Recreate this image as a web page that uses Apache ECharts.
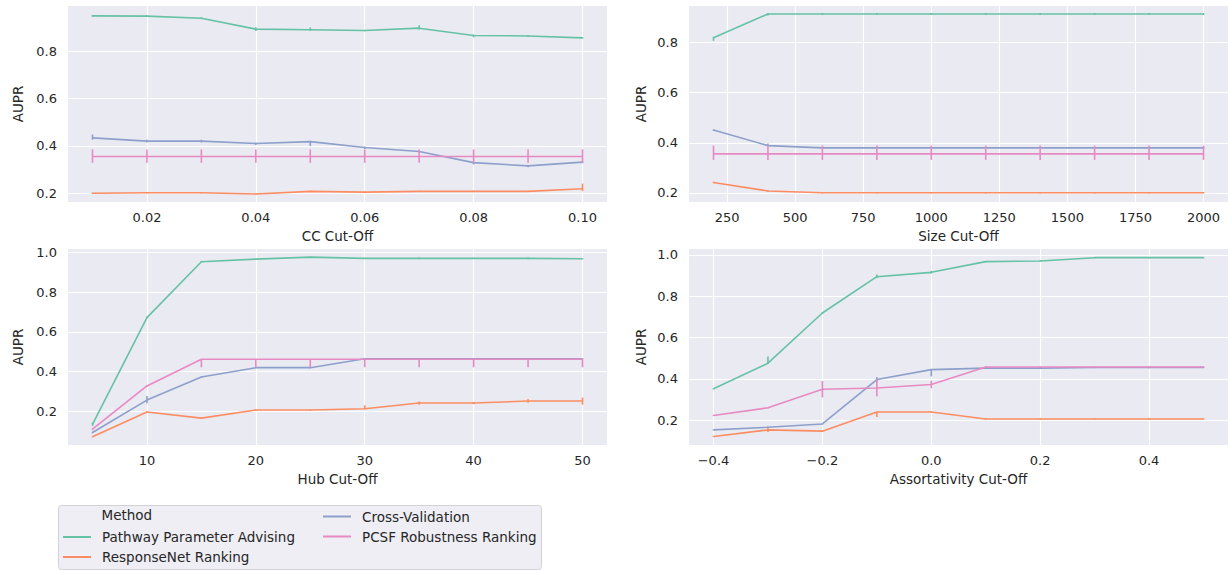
<!DOCTYPE html>
<html>
<head>
<meta charset="utf-8">
<script src="https://cdn.jsdelivr.net/npm/echarts@6/dist/echarts.min.js"></script>
<style>
html,body{margin:0;padding:0;background:#fff;}
#chart{width:1229px;height:571px;}
</style>
</head>
<body>
<div id="chart"></div>
<script>
// ---------- data ----------
const methods = ['Pathway Parameter Advising', 'ResponseNet Ranking', 'Cross-Validation', 'PCSF Robustness Ranking'];
const colors = ['#66c2a5', '#fc8d62', '#8da0cb', '#e78ac3'];

// Panel 1: CC Cut-Off
const ccX = [0.01, 0.02, 0.03, 0.04, 0.05, 0.06, 0.07, 0.08, 0.09, 0.10];
const ccPPA = [0.951, 0.950, 0.941, 0.895, 0.892, 0.889, 0.899, 0.868, 0.866, 0.858];
const ccPPADn = [0.004, 0.004, 0.004, 0.008, 0.004, 0.003, 0.006, 0.008, 0.003, 0.003];
const ccPPAUp = [0.004, 0.004, 0.004, 0.008, 0.010, 0.003, 0.012, 0.004, 0.003, 0.003];
const ccRN = [0.199, 0.201, 0.201, 0.196, 0.207, 0.204, 0.207, 0.207, 0.207, 0.218];
const ccRNDn = [0.003, 0.003, 0.003, 0.002, 0.003, 0.003, 0.003, 0.003, 0.003, 0.010];
const ccRNUp = [0.003, 0.003, 0.003, 0.002, 0.003, 0.003, 0.003, 0.003, 0.003, 0.022];
const ccCV = [0.434, 0.420, 0.420, 0.410, 0.418, 0.393, 0.376, 0.329, 0.315, 0.331];
const ccCVDn = [0.008, 0.006, 0.006, 0.006, 0.019, 0.006, 0.004, 0.008, 0.006, 0.005];
const ccCVUp = [0.014, 0.006, 0.006, 0.004, 0.003, 0.004, 0.004, 0.004, 0.003, 0.004];
const ccPCSF = [0.355, 0.355, 0.355, 0.355, 0.355, 0.355, 0.355, 0.355, 0.355, 0.355];
const ccPCSFDn = [0.027, 0.027, 0.027, 0.027, 0.027, 0.027, 0.027, 0.027, 0.027, 0.027];
const ccPCSFUp = [0.030, 0.030, 0.030, 0.030, 0.030, 0.030, 0.030, 0.030, 0.030, 0.030];
const ccTicksX = [0.02, 0.04, 0.06, 0.08, 0.10];
const ccTicksY = [0.2, 0.4, 0.6, 0.8];

// Panel 2: Size Cut-Off
const szX = [200, 400, 600, 800, 1000, 1200, 1400, 1600, 1800, 2000];
const szPPA = [0.819, 0.914, 0.914, 0.914, 0.914, 0.914, 0.914, 0.914, 0.914, 0.914];
const szPPADn = [0.012, 0.006, 0.004, 0.004, 0.004, 0.004, 0.004, 0.004, 0.004, 0.004];
const szPPAUp = [0.004, 0.004, 0.004, 0.004, 0.004, 0.004, 0.004, 0.004, 0.004, 0.004];
const szRN = [0.242, 0.208, 0.201, 0.201, 0.201, 0.201, 0.201, 0.201, 0.201, 0.201];
const szRNDn = [0.003, 0.003, 0.003, 0.003, 0.003, 0.003, 0.003, 0.003, 0.003, 0.003];
const szRNUp = [0.003, 0.003, 0.003, 0.003, 0.003, 0.003, 0.003, 0.003, 0.003, 0.003];
const szCV = [0.451, 0.389, 0.380, 0.380, 0.380, 0.380, 0.380, 0.380, 0.380, 0.380];
const szCVDn = [0.003, 0.004, 0.003, 0.003, 0.003, 0.003, 0.003, 0.003, 0.003, 0.003];
const szCVUp = [0.003, 0.008, 0.003, 0.003, 0.003, 0.003, 0.003, 0.003, 0.003, 0.003];
const szPCSF = [0.356, 0.356, 0.356, 0.356, 0.356, 0.356, 0.356, 0.356, 0.356, 0.356];
const szPCSFDn = [0.024, 0.024, 0.024, 0.024, 0.024, 0.024, 0.024, 0.024, 0.024, 0.024];
const szPCSFUp = [0.033, 0.033, 0.033, 0.033, 0.033, 0.033, 0.033, 0.033, 0.033, 0.033];
const szTicksX = [250, 500, 750, 1000, 1250, 1500, 1750, 2000];
const szTicksY = [0.2, 0.4, 0.6, 0.8];

// Panel 3: Hub Cut-Off
const hubX = [5, 10, 15, 20, 25, 30, 35, 40, 45, 50];
const hubPPA = [0.135, 0.672, 0.953, 0.966, 0.976, 0.970, 0.970, 0.970, 0.970, 0.968];
const hubPPADn = [0.008, 0.004, 0.004, 0.003, 0.003, 0.003, 0.004, 0.003, 0.004, 0.003];
const hubPPAUp = [0.008, 0.004, 0.004, 0.003, 0.003, 0.003, 0.004, 0.003, 0.004, 0.003];
const hubRN = [0.072, 0.197, 0.166, 0.207, 0.207, 0.213, 0.242, 0.242, 0.252, 0.252];
const hubRNDn = [0.003, 0.004, 0.004, 0.004, 0.003, 0.003, 0.008, 0.006, 0.008, 0.018];
const hubRNUp = [0.003, 0.004, 0.004, 0.004, 0.003, 0.018, 0.008, 0.006, 0.010, 0.018];
const hubCV = [0.094, 0.257, 0.373, 0.420, 0.420, 0.465, 0.465, 0.465, 0.465, 0.465];
const hubCVDn = [0.004, 0.016, 0.004, 0.003, 0.003, 0.003, 0.003, 0.003, 0.003, 0.003];
const hubCVUp = [0.004, 0.020, 0.004, 0.003, 0.003, 0.003, 0.003, 0.003, 0.003, 0.003];
const hubPCSF = [0.111, 0.328, 0.462, 0.462, 0.462, 0.462, 0.462, 0.462, 0.462, 0.462];
const hubPCSFDn = [0.004, 0.004, 0.040, 0.040, 0.040, 0.040, 0.040, 0.040, 0.040, 0.040];
const hubPCSFUp = [0.004, 0.004, 0.000, 0.000, 0.000, 0.000, 0.000, 0.000, 0.000, 0.000];
const hubTicksX = [10, 20, 30, 40, 50];
const hubTicksY = [0.2, 0.4, 0.6, 0.8, 1.0];

// Panel 4: Assortativity Cut-Off
const asX = [-0.4, -0.3, -0.2, -0.1, 0.0, 0.1, 0.2, 0.3, 0.4, 0.5];
const asPPA = [0.352, 0.476, 0.719, 0.895, 0.916, 0.968, 0.971, 0.987, 0.987, 0.987];
const asPPADn = [0.003, 0.002, 0.003, 0.008, 0.006, 0.003, 0.003, 0.003, 0.003, 0.003];
const asPPAUp = [0.003, 0.032, 0.003, 0.010, 0.008, 0.003, 0.003, 0.003, 0.003, 0.003];
const asRN = [0.121, 0.153, 0.147, 0.240, 0.240, 0.206, 0.206, 0.206, 0.206, 0.206];
const asRNDn = [0.003, 0.010, 0.003, 0.024, 0.003, 0.003, 0.003, 0.003, 0.003, 0.003];
const asRNUp = [0.003, 0.010, 0.003, 0.000, 0.003, 0.003, 0.003, 0.003, 0.003, 0.003];
const asCV = [0.153, 0.166, 0.182, 0.397, 0.445, 0.452, 0.452, 0.455, 0.455, 0.455];
const asCVDn = [0.003, 0.003, 0.003, 0.012, 0.033, 0.003, 0.003, 0.003, 0.003, 0.003];
const asCVUp = [0.003, 0.003, 0.003, 0.012, 0.000, 0.003, 0.003, 0.003, 0.003, 0.003];
const asPCSF = [0.223, 0.260, 0.350, 0.356, 0.373, 0.458, 0.458, 0.458, 0.458, 0.458];
const asPCSFDn = [0.003, 0.003, 0.040, 0.040, 0.018, 0.003, 0.003, 0.003, 0.003, 0.003];
const asPCSFUp = [0.003, 0.003, 0.040, 0.040, 0.018, 0.003, 0.003, 0.003, 0.003, 0.003];
const asTicksX = [-0.4, -0.2, 0.0, 0.2, 0.4];
const asTicksY = [0.2, 0.4, 0.6, 0.8, 1.0];

// ---------- layout ----------
const TXT = '#262626';
const FONT = 'DejaVu Sans';
const panels = [
  { x: ccX, ys: [ccPPA, ccRN, ccCV, ccPCSF], dn: [ccPPADn, ccRNDn, ccCVDn, ccPCSFDn], up: [ccPPAUp, ccRNUp, ccCVUp, ccPCSFUp],
    name: 'CC Cut-Off', xr: [0.0055, 0.1045], yr: [0.162, 0.993], tx: ccTicksX, ty: ccTicksY, fx: v => v.toFixed(2),
    grid: { left: 68, top: 6, width: 539, height: 196 }, yGap: 43 },
  { x: szX, ys: [szPPA, szRN, szCV, szPCSF], dn: [szPPADn, szRNDn, szCVDn, szPCSFDn], up: [szPPAUp, szRNUp, szCVUp, szPCSFUp],
    name: 'Size Cut-Off', xr: [110, 2090], yr: [0.164, 0.946], tx: szTicksX, ty: szTicksY, fx: v => String(Math.round(v)),
    grid: { left: 689, top: 6, width: 539, height: 196 }, yGap: 41 },
  { x: hubX, ys: [hubPPA, hubRN, hubCV, hubPCSF], dn: [hubPPADn, hubRNDn, hubCVDn, hubPCSFDn], up: [hubPPAUp, hubRNUp, hubCVUp, hubPCSFUp],
    name: 'Hub Cut-Off', xr: [2.75, 52.25], yr: [0.031, 1.017], tx: hubTicksX, ty: hubTicksY, fx: v => String(Math.round(v)),
    grid: { left: 68, top: 249, width: 539, height: 196 }, yGap: 43 },
  { x: asX, ys: [asPPA, asRN, asCV, asPCSF], dn: [asPPADn, asRNDn, asCVDn, asPCSFDn], up: [asPPAUp, asRNUp, asCVUp, asPCSFUp],
    name: 'Assortativity Cut-Off', xr: [-0.445, 0.545], yr: [0.080, 1.029], tx: asTicksX, ty: asTicksY,
    fx: v => (v < -1e-9 ? '\u2212' + Math.abs(v).toFixed(1) : Math.abs(v).toFixed(1)),
    grid: { left: 689, top: 249, width: 539, height: 196 }, yGap: 41 }
];

const grids = [], xAxes = [], yAxes = [], series = [];
panels.forEach((p, i) => {
  grids.push(Object.assign({ show: true, backgroundColor: '#eaeaf2', borderWidth: 0, containLabel: false }, p.grid));
  xAxes.push({
    type: 'value', gridIndex: i, min: p.xr[0], max: p.xr[1],
    name: p.name, nameLocation: 'middle', nameGap: 27,
    nameTextStyle: { color: TXT, fontSize: 13.5, fontFamily: FONT },
    axisLine: { show: false }, axisTick: { show: false, customValues: p.tx },
    axisLabel: { customValues: p.tx, formatter: p.fx, color: TXT, fontSize: 13, fontFamily: FONT, margin: 9 },
    splitLine: { show: true, lineStyle: { color: '#ffffff', width: 1.1 } }
  });
  yAxes.push({
    type: 'value', gridIndex: i, min: p.yr[0], max: p.yr[1],
    name: 'AUPR', nameLocation: 'middle', nameGap: p.yGap,
    nameTextStyle: { color: TXT, fontSize: 13.5, fontFamily: FONT },
    axisLine: { show: false }, axisTick: { show: false, customValues: p.ty },
    axisLabel: { customValues: p.ty, formatter: v => v.toFixed(1), color: TXT, fontSize: 13, fontFamily: FONT, margin: 11 },
    splitLine: { show: true, lineStyle: { color: '#ffffff', width: 1.1 } }
  });
  p.ys.forEach((ys, m) => {
    series.push({
      type: 'line', name: methods[m], xAxisIndex: i, yAxisIndex: i,
      data: p.x.map((x, k) => [x, ys[k]]),
      showSymbol: false, symbol: 'none', smooth: false,
      lineStyle: { color: colors[m], width: 1.6 }, itemStyle: { color: colors[m] },
      z: 2 + m, silent: true
    });
  });
  p.ys.forEach((ys, m) => {
    series.push({
      type: 'custom', name: methods[m], xAxisIndex: i, yAxisIndex: i,
      data: p.x.map((x, k) => [x, ys[k] - p.dn[m][k], ys[k] + p.up[m][k]]),
      encode: { x: 0, y: [1, 2] },
      itemStyle: { color: colors[m] }, z: 2 + m, silent: true,
      renderItem: (params, api) => {
        const a = api.coord([api.value(0), api.value(1)]);
        const b = api.coord([api.value(0), api.value(2)]);
        return { type: 'line', shape: { x1: a[0], y1: a[1], x2: b[0], y2: b[1] },
                 style: { stroke: colors[m], lineWidth: 1.6 } };
      }
    });
  });
});

const legendText = { color: TXT, fontSize: 13.5, fontFamily: FONT, lineHeight: 20, padding: [0, 0, 0, 6] };
const option = {
  animation: false,
  color: colors,
  grid: grids, xAxis: xAxes, yAxis: yAxes, series: series,
  legend: [
    { data: [methods[0], methods[1]], orient: 'vertical', left: 63, top: 527, itemWidth: 28, itemHeight: 2,
      itemGap: 0, icon: 'rect', textStyle: legendText, selectedMode: false, padding: 0 },
    { data: [methods[2], methods[3]], orient: 'vertical', left: 323, top: 506.5, itemWidth: 28, itemHeight: 2,
      itemGap: 0, icon: 'rect', textStyle: legendText, selectedMode: false, padding: 0 }
  ],
  graphic: [
    { type: 'rect', z: -1, shape: { x: 58.5, y: 505.5, width: 483, height: 64, r: 3 },
      style: { fill: '#eeeef4', stroke: '#d2d2d6', lineWidth: 1 } },
    { type: 'text', left: 101.5, top: 508, style: { text: 'Method', fill: TXT, fontSize: 13.5, fontFamily: FONT } }
  ]
};

const chart = echarts.init(document.getElementById('chart'), null, { renderer: 'svg' });
chart.setOption(option);
</script>
</body>
</html>
